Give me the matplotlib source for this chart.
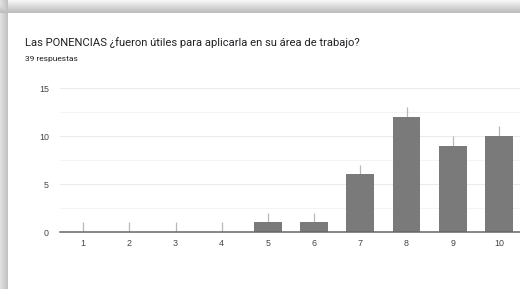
import numpy as np
import matplotlib as mpl
from matplotlib import pyplot as plt


# data
categories = ["1", "2", "3", "4", "5", "6", "7", "8", "9", "10"]
counts = [0, 0, 0, 0, 1, 1, 6, 12, 9, 10]
title = "Las PONENCIAS ¿fueron útiles para aplicarla en su área de trabajo?"
subtitle = "39 respuestas"

mpl.rcParams['font.family'] = ['Roboto', 'DejaVu Sans']

W, H = 520, 289
fig = plt.figure(figsize=(W/100, H/100), dpi=100)

# card shadow on the top and left edges
bg = fig.add_axes([0, 0, 1, 1])
xs = np.arange(W)[None, :]
ys = np.arange(H)[:, None]
dx = np.clip(8 - xs, 0, None) / 8.
dy = np.clip(13 - ys, 0, None) / 13.
shade = np.ones((H, W))
shade = np.where(dy > 0, 0.72 + 0.24*dy, shade)
shade = np.where(dx > 0, np.minimum(shade, 0.74 + 0.14*dx), shade)
bg.imshow(shade, cmap="gray", vmin=0, vmax=1, aspect="auto",
          extent=(0, W, H, 0), interpolation="bilinear")
bg.set_xlim(0, W)
bg.set_ylim(H, 0)
bg.axis("off")

fig.text(25/W, 1 - 43/H, title, fontsize=8.1, color="#202124", va="center")
fig.text(25/W, 1 - 59.5/H, subtitle, fontsize=6.0, color="#202124", va="center")

ax = fig.add_axes([60/W, 1 - 232/H, 462/W, 144/H])
ax.patch.set_alpha(0)
pos = np.arange(1, len(categories) + 1)
ax.bar(pos, counts, width=0.6, color="#7a7a7a", zorder=3)
# small whisker above every bar, as Google Forms draws it
ax.vlines(pos, counts, np.array(counts) + 1, color="#b8b8b8", lw=0.9, zorder=2)

ax.set_xlim(0.5, 10.5)
ax.set_ylim(0, 15)
ax.set_yticks([0, 5, 10, 15])
ax.set_yticks([2.5, 7.5, 12.5], minor=True)
ax.set_xticks(pos)
ax.set_xticklabels(categories)
ax.grid(True, axis="y", which="major", color="#ebebeb", lw=0.8, zorder=0)
ax.grid(True, axis="y", which="minor", color="#f4f4f4", lw=0.7, zorder=0)
ax.tick_params(axis="both", which="both", length=0, labelsize=6.4,
               labelcolor="#444444")
for lbl in ax.get_xticklabels() + ax.get_yticklabels():
    lbl.set_fontfamily(["Liberation Sans", "DejaVu Sans"])
ax.tick_params(axis="y", pad=8)
ax.tick_params(axis="x", pad=5)
for side in ["top", "right", "left"]:
    ax.spines[side].set_visible(False)
ax.spines["bottom"].set_color("#666666")
ax.spines["bottom"].set_linewidth(1.1)
ax.spines["bottom"].set_zorder(4)

plt.savefig("out.png", dpi=100)
